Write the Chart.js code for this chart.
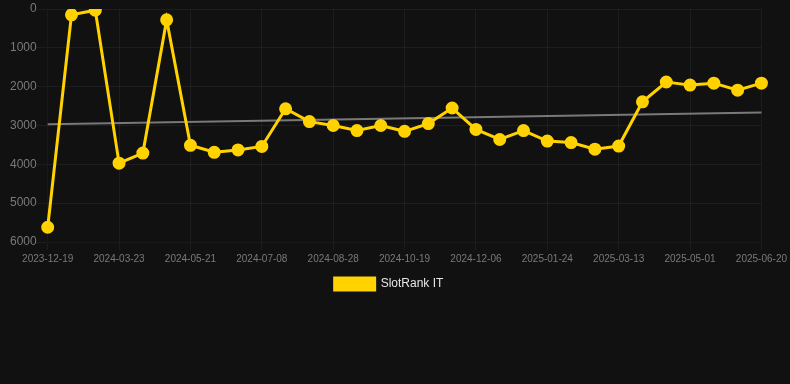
<!DOCTYPE html>
<html>
<head>
<meta charset="utf-8">
<script src="https://cdn.jsdelivr.net/npm/chart.js@4"></script>
<style>
    html, body { margin: 0; padding: 0; background: #111111; }
    .wrap { position: relative; width: 790px; height: 300px; }
</style>
</head>
<body>
<div class="wrap"><canvas id="rankChart"></canvas></div>
<script>
// Fechas (una por punto)
const labels = [
    '2023-12-19', '2024-01-20', '2024-02-21', '2024-03-23', '2024-04-12', '2024-05-01',
    '2024-05-21', '2024-06-06', '2024-06-22', '2024-07-08', '2024-07-25', '2024-08-11',
    '2024-08-28', '2024-09-14', '2024-10-01', '2024-10-19', '2024-11-03', '2024-11-20',
    '2024-12-06', '2024-12-22', '2025-01-08', '2025-01-24', '2025-02-09', '2025-02-25',
    '2025-03-13', '2025-03-29', '2025-04-15', '2025-05-01', '2025-05-18', '2025-06-03',
    '2025-06-20'
];

// Posición en el ranking
const rankValues = [
    5620, 150, 30, 3970, 3710, 280,
    3510, 3690, 3630, 3540, 2570, 2900,
    3000, 3130, 3000, 3150, 2950, 2550,
    3100, 3360, 3130, 3400, 3440, 3610,
    3530, 2390, 1880, 1960, 1910, 2090,
    1910
];

// Línea de tendencia (inicio y fin)
const trendStart = 2965;
const trendEnd = 2665;

const yTicks = { min: 0, max: 6000, step: 1000 };

const trendValues = labels.map((_, i) =>
    i === 0 ? trendStart : (i === labels.length - 1 ? trendEnd : null)
);

new Chart(document.getElementById('rankChart'), {
    type: 'line',
    data: {
        labels: labels,
        datasets: [{
            label: 'SlotRank IT',
            data: rankValues,
            borderColor: '#ffd200',
            backgroundColor: '#ffd200',
            borderWidth: 3,
            pointRadius: 5,
            pointHoverRadius: 6,
            tension: 0
        }, {
            label: 'trend',
            data: trendValues,
            spanGaps: true,
            borderColor: 'rgba(140, 140, 140, 0.85)',
            borderWidth: 2,
            pointRadius: 0,
            fill: false
        }]
    },
    options: {
        responsive: true,
        maintainAspectRatio: false,
        animation: false,
        layout: { padding: { left: 10, right: 22 } },
        plugins: {
            legend: {
                position: 'bottom',
                labels: {
                    color: '#e6e6e6',
                    font: { size: 12 },
                    filter: item => item.text !== 'trend'
                }
            },
            tooltip: { enabled: false }
        },
        scales: {
            x: {
                grid: { color: 'rgba(255, 255, 255, 0.05)' },
                ticks: { color: '#7a7a7a', font: { size: 10 }, maxRotation: 0, autoSkip: true }
            },
            y: {
                reverse: true,
                min: yTicks.min,
                max: yTicks.max,
                grid: { color: 'rgba(255, 255, 255, 0.05)', tickLength: 11 },
                ticks: {
                    color: '#7a7a7a',
                    font: { size: 12, lineHeight: 0.7 },
                    padding: 0,
                    stepSize: yTicks.step,
                    callback: value => String(value)
                }
            }
        }
    }
});
</script>
</body>
</html>
